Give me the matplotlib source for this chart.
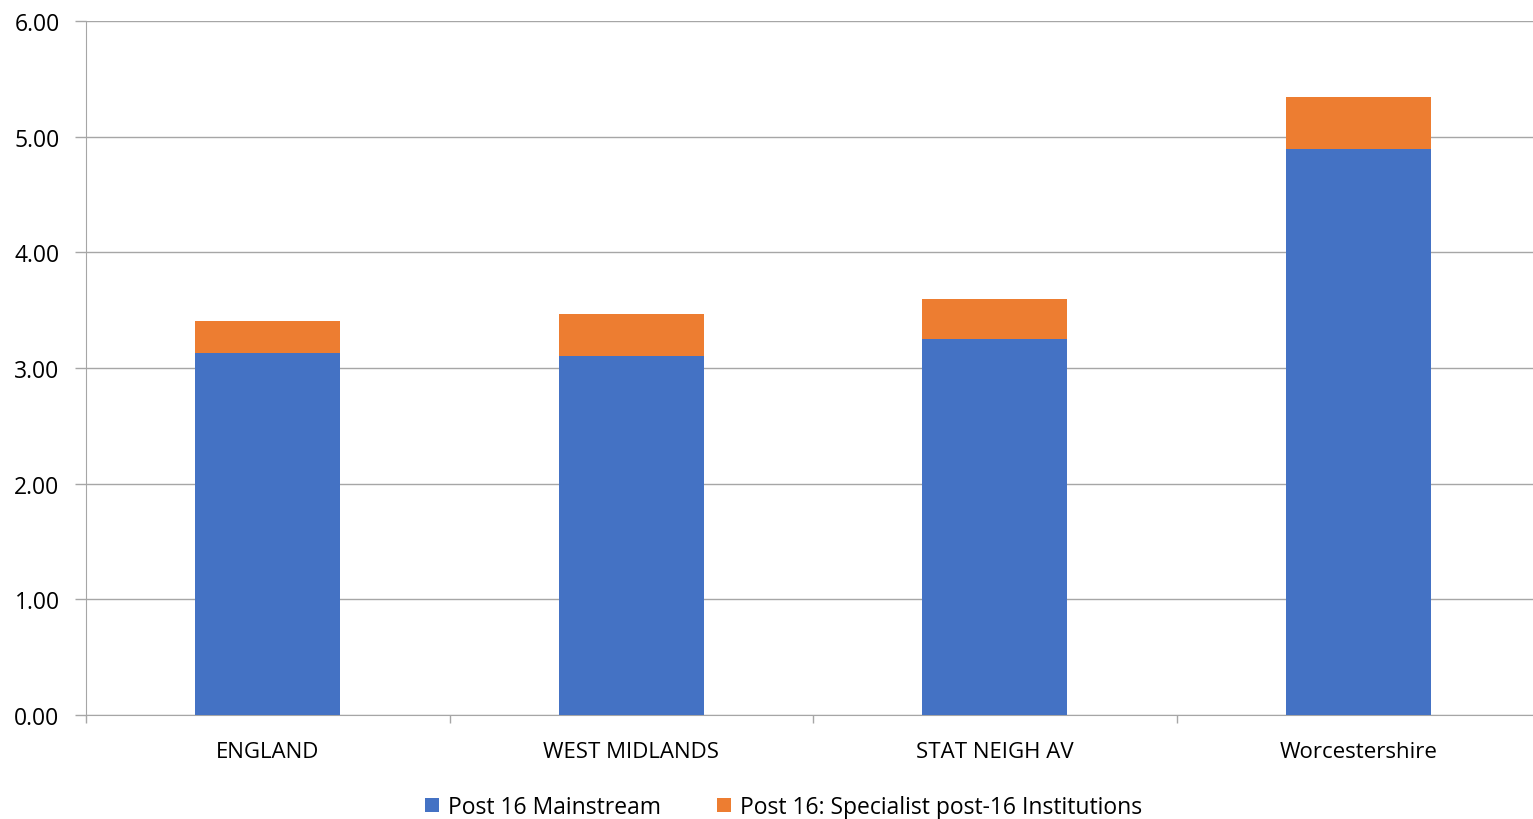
import numpy as np
import matplotlib.pyplot as plt
from matplotlib.ticker import FixedLocator, FuncFormatter

areas = ["ENGLAND", "WEST MIDLANDS", "STAT NEIGH AV", "Worcestershire"]
mainstream = [3.13, 3.10, 3.25, 4.89]
specialist = [0.28, 0.37, 0.35, 0.45]
series_names = ["Post 16 Mainstream", "Post 16: Specialist post-16 Institutions"]

blue = "#4472C4"
orange = "#ED7D31"
grid_col = "#A6A6A6"

plt.rcParams['font.family'] = ['Open Sans', 'DejaVu Sans']

fig = plt.figure(figsize=(15.33, 8.2), dpi=100)
ax = fig.add_axes([0.0561, 0.1268, 0.9485, 0.8464])

x = np.arange(len(areas))
ax.bar(x, mainstream, width=0.4, color=blue, label=series_names[0], zorder=3)
ax.bar(x, specialist, width=0.4, bottom=mainstream, color=orange,
       label=series_names[1], zorder=3)

ax.set_xlim(-0.5, len(areas) - 0.5)
ax.set_ylim(0, 6)
ax.set_yticks(np.arange(0, 7, 1))
ax.yaxis.set_major_formatter(FuncFormatter(lambda v, p: f"{v:.2f}"))
ax.grid(axis='y', color=grid_col, linewidth=1.0, zorder=0)

ax.set_xticks(x)
ax.set_xticklabels(areas)
ax.xaxis.set_minor_locator(FixedLocator(np.arange(-0.5, len(areas), 1)))
ax.tick_params(axis='x', which='major', length=0, pad=19, labelsize=16)
ax.tick_params(axis='x', which='minor', length=6, color=grid_col, width=1)
ax.tick_params(axis='y', length=8, color=grid_col, width=1, labelsize=16.5, pad=11)

for side in ['top', 'right']:
    ax.spines[side].set_visible(False)
ax.spines['left'].set_color(grid_col)
ax.spines['bottom'].set_color(grid_col)

fig.legend(loc='lower center', bbox_to_anchor=(0.511, -0.025), ncol=2,
           frameon=False, fontsize=16.5, handlelength=0.6, handleheight=0.6,
           handletextpad=0.4, columnspacing=2.45)

fig.savefig("out.png", dpi=100)
